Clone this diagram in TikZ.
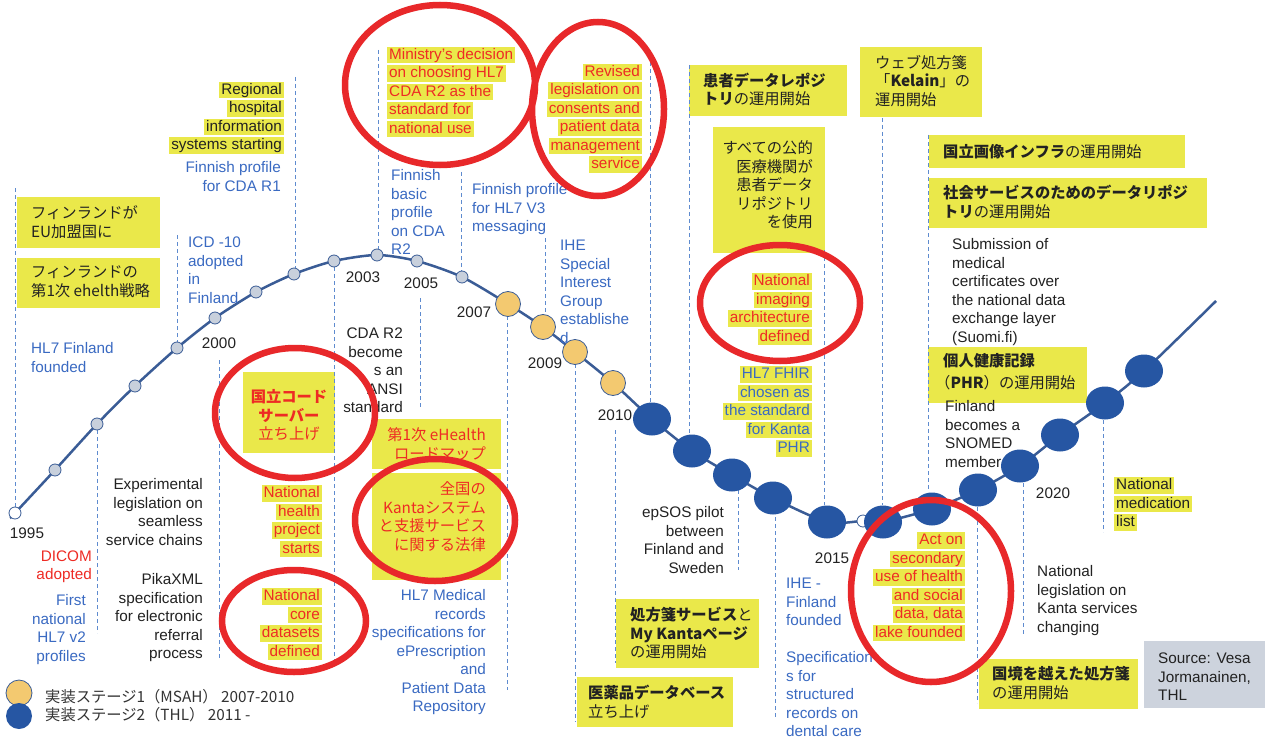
\documentclass[tikz,border=0pt]{standalone}
\usepackage{fontspec}
\setmainfont{Liberation Sans}
\newfontfamily\jp{Noto Sans CJK JP}
\usetikzlibrary{shapes.geometric}
\definecolor{hly}{HTML}{EAE84A}
\definecolor{bluet}{HTML}{3A6AC2}
\definecolor{redt}{HTML}{EE2B24}
\definecolor{blackt}{HTML}{222222}
\definecolor{dashc}{HTML}{5E8BCF}
\definecolor{ringc}{HTML}{E8282A}
\definecolor{linec}{HTML}{3A5C96}
\definecolor{smallf}{HTML}{C8D0DC}
\definecolor{orangef}{HTML}{F3C970}
\definecolor{markb}{HTML}{2656A3}
\definecolor{srcg}{HTML}{CDD3DD}
\tikzset{
  tx/.style={font=\fontsize{15.3}{18.5}\selectfont, inner sep=0pt, text=blackt},
  jx/.style={font=\jp\fontsize{15.3}{18.5}\selectfont, inner sep=0pt, text=blackt},
  hl/.style={fill=hly, inner xsep=2pt, text height=12.5pt, text depth=4pt},
  bt/.style={text=bluet},
  rt/.style={text=redt},
  dl/.style={draw=dashc, dash pattern=on 4pt off 3pt, line width=1pt},
  ring/.style={draw=ringc, line width=6.5pt},
  smk/.style={circle, draw=linec, fill=smallf, line width=0.8pt, minimum size=12pt, inner sep=0pt},
  wmk/.style={smk, fill=white},
  omk/.style={circle, draw=linec, fill=orangef, line width=0.8pt, minimum size=25pt, inner sep=0pt},
  bmk/.style={ellipse, fill=markb, minimum width=38pt, minimum height=33pt, inner sep=0pt},
}
\newcommand\txl[6]{\foreach \l [count=\i] in {#6}{\node[#5,anchor=#4] (#1\i) at (#2,{#3+18.5*(\i-1)}) {\l};}}
\begin{document}
\begin{tikzpicture}[x=1pt,y=-1pt]
\useasboundingbox (0,0) rectangle (1265,738);
\fill[white] (0,0) rectangle (1265,738);
% ---------- yellow boxes ----------
\fill[hly] (17,197) rectangle (160,248);
\fill[hly] (17,258) rectangle (160,308);
\fill[hly] (243,372) rectangle (335,453);
\fill[hly] (372,419) rectangle (501,469);
\fill[hly] (372,473) rectangle (501,580);
\fill[hly] (577,677) rectangle (733,727);
\fill[hly] (616,599) rectangle (759,668);
\fill[hly] (689,65) rectangle (847,116);
\fill[hly] (713,127) rectangle (825,253);
\fill[hly] (860,47) rectangle (982,117);
\fill[hly] (929,135) rectangle (1185,168);
\fill[hly] (929,178) rectangle (1207,228);
\fill[hly] (928,347) rectangle (1087,403);
\fill[hly] (979,659) rectangle (1138,709);
\fill[srcg] (1144,641) rectangle (1265,708);
% ---------- dashed guide lines ----------
\foreach \x/\ya/\yb in {15/188/507, 177/235/342, 97/430/633, 219/360/660, 295/77/268,
  334/267/660, 378/50/249, 420/298/408, 461/172/271, 507/316/690, 545/238/315,
  575/364/722, 650/62/403, 615/430/663, 689/65/435, 738/490/570, 775/517/718,
  824/250/505, 882/118/505, 928/135/492, 977/507/703, 1023/483/635, 1103/420/532}
  \draw[dl] (\x,\ya) -- (\x,\yb);
% ---------- timeline ----------
\coordinate (s0) at (10,518);
\coordinate (p1) at (15,513);
\coordinate (p2) at (55,470);
\coordinate (p3) at (97,424);
\coordinate (p4) at (135,386);
\coordinate (p5) at (177,348);
\coordinate (p6) at (215,318);
\coordinate (p7) at (256,292);
\coordinate (p8) at (294,274);
\coordinate (p9) at (334,261);
\coordinate (p10) at (377,255);
\coordinate (p11) at (417,261);
\coordinate (p12) at (462,277);
\coordinate (o1) at (508,304);
\coordinate (o2) at (543,327);
\coordinate (o3) at (575,352);
\coordinate (o4) at (613,383);
\coordinate (b1) at (652,419);
\coordinate (b2) at (692,451);
\coordinate (b3) at (732,475);
\coordinate (b4) at (773,498);
\coordinate (b5) at (827,522);
\coordinate (w2) at (863,521);
\coordinate (b6) at (883,522);
\coordinate (b7) at (932,509);
\coordinate (b8) at (978,490);
\coordinate (b9) at (1020,466);
\coordinate (b10) at (1060,435);
\coordinate (b11) at (1105,403);
\coordinate (b12) at (1144,371);
\coordinate (e) at (1216,301);
\draw[linec, line width=2.5pt, line join=round] plot[smooth, tension=0.45] coordinates {(s0) (p1) (p2) (p3) (p4) (p5) (p6) (p7) (p8) (p9) (p10) (p11) (p12) (o1) (o2) (o3) (o4) (b1) (b2) (b3) (b4) (b5) (w2) (b6) (b7) (b8) (b9) (b10) (b11) (b12) (e)};
\node[wmk] (mp1) at (p1) {};
\foreach \p in {p2,p3,p4,p5,p6,p7,p8,p9,p10,p11,p12} \node[smk] (m\p) at (\p) {};
\foreach \p in {o1,o2,o3,o4} \node[omk] (m\p) at (\p) {};
\node[wmk] (mw2) at (w2) {};
\foreach \p in {b1,b2,b3,b4,b5,b6,b7,b8,b9,b10,b11,b12} \node[bmk] (m\p) at (\p) {};
% ---------- years ----------
\foreach \t/\x/\y in {1995/27/538.5, 2000/219/348.5, 2003/363/282.5, 2005/421/288.5, 2007/474/317.5,
  2009/545/368.5, 2010/615/420.5, 2015/832/563.5, 2020/1053/498.5}
  \node[tx, anchor=base] (y\t) at (\x,\y) {\t};
% ---------- texts ----------
\txl{fa}{31}{218.5}{base west}{jx}{フィンランドが,EU加盟国に}
\txl{fb}{31}{277.5}{base west}{jx}{フィンランドの,第1次 ehelth戦略}
\txl{hf}{31}{353.5}{base west}{tx,bt}{HL7 Finland,founded}
\txl{dc}{92}{561}{base east}{tx,rt}{DICOM,adopted}
\txl{fn}{86}{605.5}{base east}{tx,bt}{First,national,HL7 v2,profiles}
\txl{ex}{203}{489.5}{base east}{tx}{Experimental,legislation on,seamless,service chains}
\txl{pk}{203}{584.5}{base east}{tx}{PikaXML,specification,for electronic,referral,process}
\txl{icd}{188}{247.5}{base west}{tx,bt}{ICD -10,adopted,in,Finland}
\txl{fr}{281}{172.5}{base east}{tx,bt}{Finnish profile,for CDA R1}
\txl{rh}{284}{94.5}{base east}{tx,hl}{Regional,hospital,information,systems starting}
\txl{kc}{289}{402.5}{base}{jx,rt}{\textbf{国立コード},\textbf{サーバー},立ち上げ}
\txl{nh}{322}{497.5}{base east}{tx,hl,rt}{National,health,project,starts}
\txl{nc}{322}{600.5}{base east}{tx,hl,rt}{National,core,datasets,defined}
\txl{cda}{403}{338.5}{base east}{tx}{CDA R2,become,s an,ANSI,standard}
\txl{md}{387}{59.5}{base west}{tx,hl,rt}{Ministry’s decision,on choosing HL7,CDA R2 as the,standard for,national use}
\txl{fbp}{391}{180.5}{base west}{tx,bt}{Finnish,basic,profile,on CDA,R2}
\txl{fv}{472}{194.5}{base west}{tx,bt}{Finnish profile,for HL7 V3,messaging}
\txl{rl}{642}{76.5}{base east}{tx,hl,rt}{Revised,legislation on,consents and,patient data,management,service}
\txl{ihe}{560}{250.5}{base west}{tx,bt}{IHE,Special,Interest,Group,establishe,d}
\txl{ehr}{486}{440.5}{base east}{jx,rt}{第1次 eHealth,ロードマップ}
\txl{kl}{486}{494.5}{base east}{jx,rt}{全国の,Kantaシステム,と支援サービス,に関する法律}
\txl{hm}{486}{600.5}{base east}{tx,bt}{HL7 Medical,records,specifications for,ePrescription,and,Patient Data,Repository}
\txl{db}{588}{698.5}{base west}{jx}{\textbf{医薬品データベース},立ち上げ}
\txl{rx}{630}{620.5}{base west}{jx}{\textbf{処方箋サービス}と,\textbf{My Kantaページ},の運用開始}
\txl{ep}{724}{517.5}{base east}{tx}{epSOS pilot,between,Finland and,Sweden}
\txl{ihf}{786}{588.5}{base west}{tx,bt}{IHE -,Finland,founded}
\txl{sp}{786}{662.5}{base west}{tx,bt}{Specification,s for,structured,records on,dental care}
\txl{pr}{703}{86.5}{base west}{jx}{\textbf{患者データレポジ},\textbf{トリ}の運用開始}
\txl{al}{813}{153.5}{base east}{jx}{すべての公的,医療機関が,患者データ,リポジトリ,を使用}
\txl{ni}{812}{285.5}{base east}{tx,hl,rt}{National,imaging,architecture,defined}
\txl{fh}{812}{378.5}{base east}{tx,hl,bt}{HL7 FHIR,chosen as,the standard,for Kanta,PHR}
\txl{kel}{875}{68.5}{base west}{jx}{ウェブ処方箋,「\textbf{Kelain}」の,運用開始}
\txl{img}{943}{157.5}{base west}{jx}{\textbf{国立画像インフラ}の運用開始}
\txl{soc}{943}{198.5}{base west}{jx}{\textbf{社会サービスのためのデータリポジ},\textbf{トリ}の運用開始}
\txl{sub}{952}{249.5}{base west}{tx}{Submission of,medical,certificates over,the national data,exchange layer,(Suomi.fi)}
\node[jx, anchor=base west] (phr1) at (943,366.5) {\textbf{個人健康記録}};
\node[jx, anchor=base west] (phr2) at (935,388.5) {（\textbf{PHR}）の運用開始};
\txl{sn}{945}{411.5}{base west}{tx}{Finland,becomes a,SNOMED,member}
\txl{act}{965}{544.5}{base east}{tx,hl,rt}{Act on,secondary,use of health,and social,{data, data},lake founded}
\txl{nl}{1037}{576.5}{base west}{tx}{National,legislation on,Kanta services,changing}
\txl{ml}{1114}{489.5}{base west}{tx,hl}{National,medication,list}
\txl{cb}{992}{679.5}{base west}{jx}{\textbf{国境を越えた処方箋},の運用開始}
\txl{src}{1158}{663.5}{base west}{tx}{Source: Vesa,{Jormanainen,},THL}
% ---------- legend ----------
\node[omk, minimum size=26pt] (lg1) at (19,693) {};
\node[bmk, minimum width=26pt, minimum height=26pt] (lg2) at (19,716) {};
\node[jx, anchor=base west, text=black!80] (lt1) at (45,702.5) {実装ステージ1（MSAH） 2007-2010};
\node[jx, anchor=base west, text=black!80] (lt2) at (45,720.5) {実装ステージ2（THL） 2011 -};
% ---------- red rings ----------
\draw[ring] (295,413) ellipse [x radius=80, y radius=65];
\draw[ring] (294,621) ellipse [x radius=72, y radius=51];
\draw[ring] (440,85) ellipse [x radius=95, y radius=80];
\draw[ring] (598,109) ellipse [x radius=66, y radius=87];
\draw[ring] (435,520) ellipse [x radius=80, y radius=61];
\draw[ring] (780,303) ellipse [x radius=80, y radius=58];
\draw[ring] (931,591) ellipse [x radius=80, y radius=91];
\end{tikzpicture}
\end{document}
